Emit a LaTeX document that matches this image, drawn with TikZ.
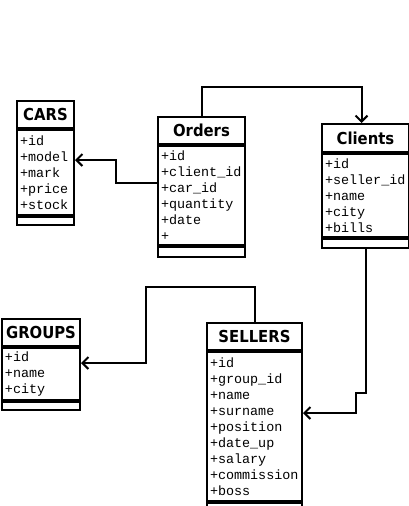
\documentclass[tikz,border=0pt]{standalone}
\usepackage{fontspec}
\newfontfamily\headfont{DejaVu Sans Condensed}
\newfontfamily\attrfont{Liberation Mono}
\usetikzlibrary{arrows.meta,positioning}

\begin{document}
\begin{tikzpicture}[
    x=1pt, y=-1pt,
    node distance=0pt,
    head/.style={rectangle, draw, line width=2pt, minimum height=27pt,
                 inner sep=0pt, align=center,
                 font=\headfont\bfseries\fontsize{16.5}{18}\selectfont},
    attrs/.style={rectangle, draw, line width=2pt, inner xsep=3pt, inner ysep=2pt,
                  align=left, font=\attrfont\fontsize{13.4}{16}\selectfont},
    ops/.style={rectangle, draw, line width=2pt, minimum height=8pt, inner sep=0pt},
    link/.style={-{Straight Barb[length=6pt,width=12pt,line width=2pt]}, line width=2pt}
]
\useasboundingbox (0,0) rectangle (409,506);

% Tables
\node[head, anchor=north west, minimum width=57pt] (carsT) at (16,100) {CARS};
\node[attrs, below=of carsT, text width=51pt, minimum height=85pt] (carsF)
    {+id\\+model\\+mark\\+price\\+stock};
\node[ops, below=of carsF, minimum width=57pt] (carsO) {};

\node[head, anchor=north west, minimum width=87pt] (ordT) at (157,116) {Orders};
\node[attrs, below=of ordT, text width=81pt, minimum height=99pt] (ordF)
    {+id\\+client\_id\\+car\_id\\+quantity\\+date\\+};
\node[ops, below=of ordF, minimum width=87pt, minimum height=10pt] (ordO) {};

\node[head, anchor=north west, minimum width=87pt, minimum height=28pt] (cliT) at (321,123) {Clients};
\node[attrs, below=of cliT, text width=81pt, minimum height=83pt] (cliF)
    {+id\\+seller\_id\\+name\\+city\\+bills};
\node[ops, below=of cliF, minimum width=87pt, minimum height=9pt] (cliO) {};

\node[head, anchor=north west, minimum width=78pt] (grpT) at (1,318) {GROUPS};
\node[attrs, below=of grpT, text width=72pt, minimum height=52pt] (grpF)
    {+id\\+name\\+city};
\node[ops, below=of grpF, minimum width=78pt] (grpO) {};

\node[head, anchor=north west, minimum width=95pt] (selT) at (206,322) {SELLERS};
\node[attrs, below=of selT, text width=89pt, minimum height=149pt] (selF)
    {+id\\+group\_id\\+name\\+surname\\+position\\+date\_up\\+salary\\+commission\\+boss};
\node[ops, below=of selF, minimum width=95pt] (selO) {};

% Arrows
\coordinate (k1) at (0,183);
\coordinate (k2) at (0,160);
\coordinate (k3) at (0,413);
\coordinate (k4) at (0,363);
\coordinate (k5) at (0,393);

\draw[link] (ordT.north) -- ++(0,-29) -| ([xshift=-4pt]cliT.north);
\draw[link] (ordF.west |- k1) -- (116,183) |- (carsF.east |- k2);
\draw[link] (cliO.south) -- (cliO.south |- k5) -- (356,393) |- (selF.east |- k3);
\draw[link] (selT.north) -- ++(0,-35) -| (146,363) -- (grpF.east |- k4);

\end{tikzpicture}
\end{document}
